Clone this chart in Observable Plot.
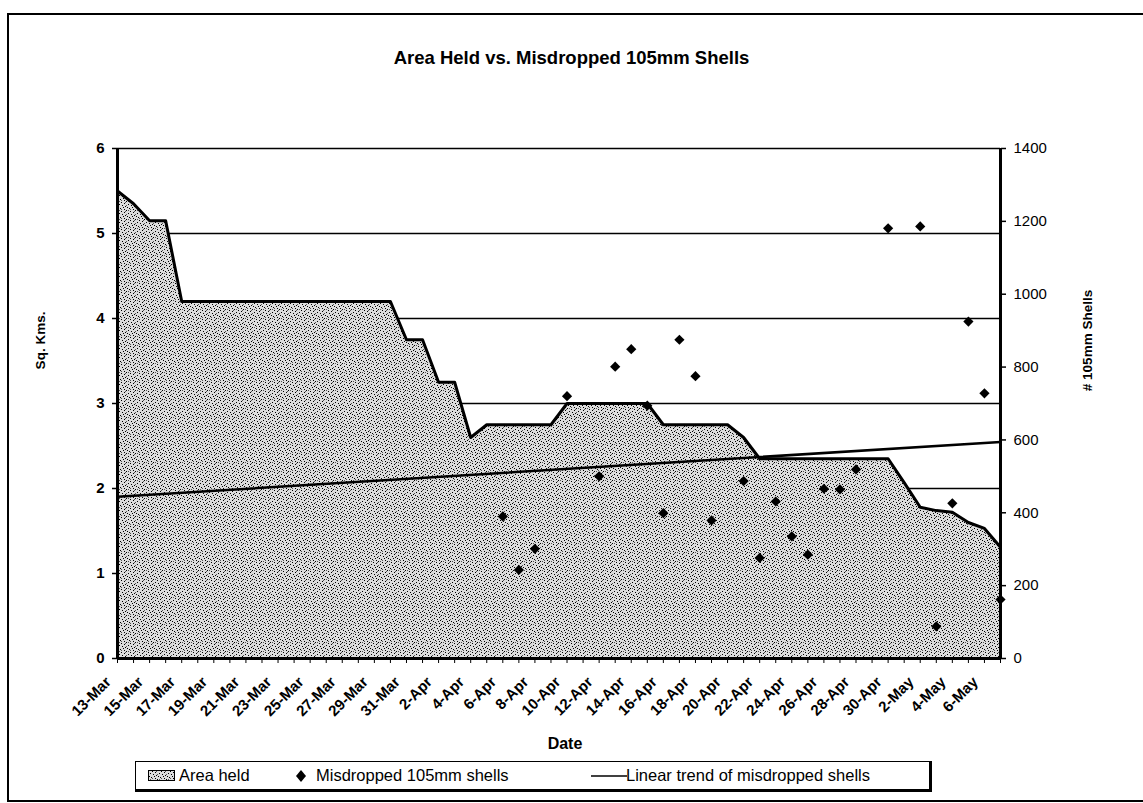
<!DOCTYPE html>
<html><head><meta charset="utf-8">
<script src="https://cdn.jsdelivr.net/npm/d3@7"></script>
<script src="https://cdn.jsdelivr.net/npm/@observablehq/plot@0.6"></script>
<style>
body{margin:0;background:#fff;font-family:Arial,"Liberation Sans",sans-serif;color:#000;}
#wrap{position:relative;width:1143px;height:803px;overflow:hidden;}
#frame{position:absolute;left:7px;top:13px;width:1200px;height:789px;border:2.5px solid #000;box-sizing:border-box;}
#title{position:absolute;top:47px;left:0;width:1143px;text-align:center;font-weight:bold;font-size:18.5px;}
#chart{position:absolute;left:0;top:120px;}
#legend{position:absolute;left:135px;top:761px;width:797px;height:31px;box-sizing:border-box;border:1.5px solid #000;border-right-width:3px;border-bottom-width:3px;font-size:16.5px;}
.li{position:absolute;top:0;height:27px;line-height:27px;white-space:nowrap;}
.li svg{position:absolute;}
</style></head>
<body>
<div id="wrap">
  <div id="frame"></div>
  <div id="title">Area Held vs. Misdropped 105mm Shells</div>
  <div id="chart"></div>
  <div id="legend">
    <div class="li" style="left:12px;"><svg width="30" height="12" style="left:0;top:8px;"><rect x="0.5" y="0.5" width="26" height="10" fill="url(#stipple)" stroke="#000" stroke-width="1"/></svg><span style="position:absolute;left:31px;">Area held</span></div>
    <div class="li" style="left:158px;"><svg width="14" height="14" style="left:0;top:7px;"><polygon points="7,1 12,7 7,13 2,7" fill="#000"/></svg><span style="position:absolute;left:22px;">Misdropped 105mm shells</span></div>
    <div class="li" style="left:455px;"><svg width="36" height="6" style="left:0;top:11px;"><line x1="0" y1="3" x2="36" y2="3" stroke="#000" stroke-width="1.5"/></svg><span style="position:absolute;left:35px;">Linear trend of misdropped shells</span></div>
  </div>
</div>
<script>
// ---- data ----
const dates = ["13-Mar","14-Mar","15-Mar","16-Mar","17-Mar","18-Mar","19-Mar","20-Mar","21-Mar","22-Mar","23-Mar","24-Mar","25-Mar","26-Mar","27-Mar","28-Mar","29-Mar","30-Mar","31-Mar",
"1-Apr","2-Apr","3-Apr","4-Apr","5-Apr","6-Apr","7-Apr","8-Apr","9-Apr","10-Apr","11-Apr","12-Apr","13-Apr","14-Apr","15-Apr","16-Apr","17-Apr","18-Apr","19-Apr","20-Apr","21-Apr","22-Apr","23-Apr","24-Apr","25-Apr","26-Apr","27-Apr","28-Apr","29-Apr","30-Apr",
"1-May","2-May","3-May","4-May","5-May","6-May","7-May"];
const areaHeld = [5.5,5.35,5.15,5.15,4.2,4.2,4.2,4.2,4.2,4.2,4.2,4.2,4.2,4.2,4.2,4.2,4.2,4.2,3.75,
3.75,3.25,3.25,2.6,2.75,2.75,2.75,2.75,2.75,3.0,3.0,3.0,3.0,3.0,3.0,2.75,2.75,2.75,2.75,2.75,2.6,2.35,2.35,2.35,2.35,2.35,2.35,2.35,2.35,2.35,
2.07,1.78,1.74,1.72,1.6,1.53,1.31];
const shellDates = ["6-Apr","7-Apr","8-Apr","10-Apr","12-Apr","13-Apr","14-Apr","15-Apr","16-Apr","17-Apr","18-Apr","19-Apr","21-Apr","22-Apr","23-Apr","24-Apr","25-Apr","26-Apr","27-Apr","28-Apr","30-Apr","2-May","3-May","4-May","5-May","6-May","7-May"];
const shellValues = [390,243,301,720,500,801,849,694,399,875,775,379,487,276,431,335,285,466,464,519,1181,1186,88,426,925,728,162];
const trendDates = ["13-Mar","7-May"];
const trendValues = [444,594];
const tickLabels = ["13-Mar","15-Mar","17-Mar","19-Mar","21-Mar","23-Mar","25-Mar","27-Mar","29-Mar","31-Mar","2-Apr","4-Apr","6-Apr","8-Apr","10-Apr","12-Apr","14-Apr","16-Apr","18-Apr","20-Apr","22-Apr","24-Apr","26-Apr","28-Apr","30-Apr","2-May","4-May","6-May"];
const leftTicks = [0,1,2,3,4,5,6];
const rightTicks = [0,200,400,600,800,1000,1200,1400];

// ---- build ----
const parse = d3.utcParse("%d-%b");
const fmt = d3.utcFormat("%-d-%b");
const toLeft = v => v * 6 / 1400;
const toRight = v => String(Math.round(v * 1400 / 6));
const areaRows = dates.map((d, i) => ({date: parse(d), area: areaHeld[i]}));
const shellRows = shellDates.map((d, i) => ({date: parse(d), v: shellValues[i]}));
const trendRows = trendDates.map((d, i) => ({date: parse(d), v: trendValues[i]}));
const font = "Arial, 'Liberation Sans', sans-serif";

const chart = Plot.plot({
  width: 1143, height: 638,
  marginLeft: 117, marginRight: 143, marginTop: 28, marginBottom: 100,
  x: {type: "utc", domain: [parse(dates[0]), parse(dates[dates.length - 1])]},
  y: {domain: [0, 6]},
  style: {fontFamily: font, fontSize: "15px", color: "#000", background: "transparent", overflow: "visible"},
  marks: [
    Plot.ruleY([1,2,3,4,5,6], {stroke: "#000", strokeWidth: 1.3}),
    Plot.areaY(areaRows, {x: "date", y: "area", fill: "url(#stipple)"}),
    Plot.lineY(areaRows, {x: "date", y: "area", stroke: "#000", strokeWidth: 3, strokeLinejoin: "round"}),
    Plot.lineY(trendRows, {x: "date", y: d => toLeft(d.v), stroke: "#000", strokeWidth: 2.5}),
    Plot.dot(shellRows, {x: "date", y: d => toLeft(d.v), symbol: "diamond2", r: 4.6, fill: "#000", stroke: "none"}),
    Plot.ruleY([0], {stroke: "#000", strokeWidth: 3}),
    Plot.ruleX([parse(dates[0]), parse(dates[dates.length - 1])], {stroke: "#000", strokeWidth: 3}),
    Plot.axisY({ticks: leftTicks, tickFormat: d => String(d), tickSize: 5, tickPadding: 8, fontWeight: "bold", fontSize: 15, label: null, strokeWidth: 1.5}),
    Plot.axisY({anchor: "right", ticks: rightTicks.map(toLeft), tickFormat: toRight, tickSize: 5, tickPadding: 8, fontSize: 15, label: null, strokeWidth: 1.5}),
    Plot.axisX({ticks: dates.map(parse), tickFormat: () => "", tickSize: 5, label: null, strokeWidth: 1}),
    Plot.axisX({ticks: tickLabels.map(parse), tickFormat: fmt, tickSize: 0, tickPadding: 21, tickRotate: -45, fontWeight: "bold", fontSize: 15, label: null, dx: -9}),
    Plot.text(["Sq. Kms."], {frameAnchor: "left", textAnchor: "middle", dx: -77, dy: -63, rotate: -90, fontWeight: "bold", fontSize: 13.5}),
    Plot.text(["# 105mm Shells"], {frameAnchor: "right", textAnchor: "middle", dx: 87, dy: -63, rotate: -90, fontWeight: "bold", fontSize: 13.5}),
    Plot.text(["Date"], {frameAnchor: "bottom", textAnchor: "middle", dx: 6, dy: 90, fontWeight: "bold", fontSize: 16})
  ]
});

const ns = "http://www.w3.org/2000/svg";
const defs = document.createElementNS(ns, "defs");
defs.innerHTML = `<pattern id="stipple" width="9" height="9" patternUnits="userSpaceOnUse">
<rect width="9" height="9" fill="#dcdcdc"/>
<rect x="0" y="0" width="1" height="1" fill="#000"/><rect x="4" y="1" width="1" height="1" fill="#000"/>
<rect x="7" y="2" width="1" height="1" fill="#000"/><rect x="2" y="3" width="1" height="1" fill="#000"/>
<rect x="5" y="4" width="1" height="1" fill="#000"/><rect x="8" y="5" width="1" height="1" fill="#000"/>
<rect x="1" y="6" width="1" height="1" fill="#000"/><rect x="6" y="6" width="1" height="1" fill="#000"/>
<rect x="3" y="7" width="1" height="1" fill="#000"/><rect x="7" y="8" width="1" height="1" fill="#000"/>
<rect x="2" y="0" width="1" height="1" fill="#555"/><rect x="8" y="1" width="1" height="1" fill="#555"/>
<rect x="0" y="4" width="1" height="1" fill="#555"/><rect x="4" y="8" width="1" height="1" fill="#555"/>
</pattern>`;
chart.insertBefore(defs, chart.firstChild);
document.getElementById("chart").appendChild(chart);
</script>
</body></html>
